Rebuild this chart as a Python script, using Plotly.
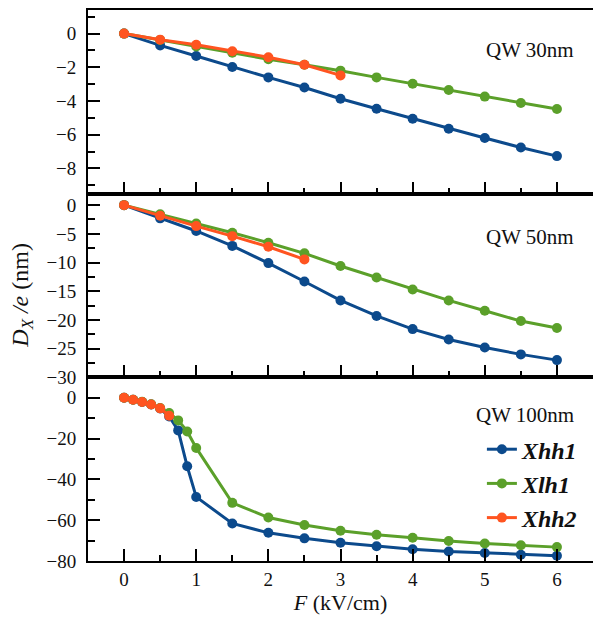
import plotly.graph_objects as go

# Electric field values (kV/cm)
F_main = [0, 0.5, 1, 1.5, 2, 2.5, 3, 3.5, 4, 4.5, 5, 5.5, 6]
F_hh2_30 = [0, 0.5, 1, 1.5, 2, 2.5, 3]
F_hh2_50 = [0, 0.5, 1, 1.5, 2, 2.5]
F_100 = [0, 0.125, 0.25, 0.375, 0.5, 0.625, 0.75, 0.875, 1, 1.5, 2, 2.5, 3, 3.5, 4, 4.5, 5, 5.5, 6]
F_hh2_100 = [0, 0.125, 0.25, 0.375, 0.5, 0.625]

# Dipole moment D_X/e (nm), QW 30 nm
hh1_30 = [0, -0.7, -1.33, -1.98, -2.6, -3.2, -3.87, -4.46, -5.05, -5.65, -6.2, -6.76, -7.27]
lh1_30 = [0, -0.38, -0.76, -1.13, -1.52, -1.85, -2.2, -2.6, -2.98, -3.35, -3.74, -4.12, -4.48]
hh2_30 = [0, -0.36, -0.66, -1.05, -1.4, -1.85, -2.48]

# QW 50 nm
hh1_50 = [0, -2.3, -4.5, -7.1, -10.1, -13.3, -16.6, -19.3, -21.6, -23.4, -24.8, -26.0, -27.0]
lh1_50 = [0, -1.6, -3.2, -4.8, -6.55, -8.4, -10.6, -12.6, -14.7, -16.6, -18.4, -20.2, -21.4]
hh2_50 = [0, -1.85, -3.65, -5.4, -7.25, -9.45]

# QW 100 nm
hh1_100 = [0, -1.0, -2.1, -3.3, -5.3, -9.2, -16.0, -33.6, -48.6, -61.6, -66.2, -68.9, -71.1,
           -72.8, -74.2, -75.3, -76.1, -76.9, -77.4]
lh1_100 = [0, -1.0, -2.0, -3.2, -5.0, -7.5, -11.1, -16.5, -24.6, -51.5, -58.7, -62.4, -65.2,
           -67.1, -68.6, -70.2, -71.4, -72.3, -73.2]
hh2_100 = [0, -1.0, -2.1, -3.3, -5.2, -8.8]

names = ["Xhh1", "Xlh1", "Xhh2"]
colors = ["#0c4a8c", "#5ba02a", "#ff5420"]
FONT = "Liberation Serif"

panels = [
    ("y", [(F_main, hh1_30), (F_main, lh1_30), (F_hh2_30, hh2_30)]),
    ("y2", [(F_main, hh1_50), (F_main, lh1_50), (F_hh2_50, hh2_50)]),
    ("y3", [(F_100, hh1_100), (F_100, lh1_100), (F_hh2_100, hh2_100)]),
]
xrefs = {"y": "x", "y2": "x2", "y3": "x3"}

fig = go.Figure()
for yref, series in panels:
    for i, (xs, ys) in enumerate(series):
        legend_on = yref == "y3"
        fig.add_trace(go.Scatter(
            x=xs, y=ys, mode="lines+markers",
            name="<b><i>%s</i></b>" % names[i] if legend_on else names[i],
            xaxis=xrefs[yref], yaxis=yref,
            line=dict(color=colors[i], width=3),
            marker=dict(color=colors[i], size=10),
            legendgroup=names[i],
            showlegend=legend_on,
        ))

axis_font = dict(family=FONT, size=19, color="#111")

def xaxis(anchor, show_labels):
    return dict(
        anchor=anchor, range=[-0.5, 6.5], dtick=1, tick0=0,
        showline=True, linecolor="black", linewidth=2, mirror=True,
        ticks="inside", ticklen=12, tickwidth=1.5, tickcolor="black",
        minor=dict(ticks="inside", ticklen=6, dtick=0.5, tickwidth=1.5, tickcolor="black"),
        showgrid=False, zeroline=False, showticklabels=show_labels,
        tickfont=axis_font,
    )

def yaxis(anchor, dom, rng, dtick, minor):
    return dict(
        anchor=anchor, domain=dom, range=rng, dtick=dtick, tick0=0,
        showline=True, linecolor="black", linewidth=2, mirror=False,
        ticks="inside", ticklen=12, tickwidth=1.5, tickcolor="black",
        minor=dict(ticks="inside", ticklen=7, dtick=minor, tickwidth=1.5, tickcolor="black"),
        showgrid=False, zeroline=False, tickfont=axis_font, ticklabelstandoff=6,
    )

fig.update_layout(
    width=593, height=620,
    margin=dict(l=88, r=0, t=10, b=59),
    plot_bgcolor="white", paper_bgcolor="white",
    font=dict(family=FONT, color="#111"),
    xaxis=xaxis("y", False),
    xaxis2=xaxis("y2", False),
    xaxis3=xaxis("y3", True),
    yaxis=yaxis("x", [2 / 3, 1], [-9.5, 1.4], 2, 1),
    yaxis2=yaxis("x2", [1 / 3, 2 / 3], [-30, 2], 5, 2.5),
    yaxis3=yaxis("x3", [0, 1 / 3], [-80, 10], 20, 10),
    legend=dict(
        x=0.98, y=0.243, xanchor="right", yanchor="top",
        font=dict(family=FONT, size=24, color="#111"),
        bgcolor="rgba(0,0,0,0)", tracegroupgap=0,
    ),
    showlegend=True,
)
fig.update_layout(xaxis3_title=dict(text="<i>F</i> (kV/cm)", font=dict(family=FONT, size=22), standoff=4))

for txt, yy in [("QW 30nm", 0.927), ("QW 50nm", 0.588), ("QW 100nm", 0.265)]:
    fig.add_annotation(text=txt, xref="paper", yref="paper", x=0.967, y=yy,
                       xanchor="right", yanchor="middle", showarrow=False,
                       font=dict(family=FONT, size=21, color="#111"))

fig.add_annotation(text="<i>D</i><sub><i>X</i></sub><i> /e</i> (nm)", xref="paper", yref="paper",
                   x=-0.131, y=0.483, xanchor="center", yanchor="middle", textangle=-90,
                   showarrow=False, font=dict(family=FONT, size=24, color="#111"))

fig.write_html("out.html")
